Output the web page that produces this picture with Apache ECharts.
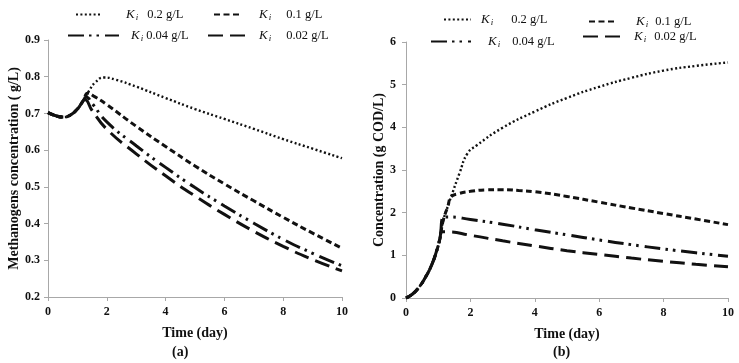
<!DOCTYPE html>
<html lang="en">
<head>
    <meta charset="UTF-8">
    <title>Methanogens and concentration vs time</title>
    <script src="https://cdn.jsdelivr.net/npm/echarts@6/dist/echarts.min.js"></script>
</head>
<body style="margin:0;background:#fff;">
    <div id="chart" style="width: 739px; height: 363px;"></div>
    <script>
    // legend values (same four Ki values on both panels)
    var kiLabels = ['0.2 g/L', '0.1 g/L', '0.04 g/L', '0.02 g/L'];
    var xTicks = [0, 2, 4, 6, 8, 10];

    // (a) methanogens concentration, g/L  -- [time, value]
    var methStart = [[0, 0.702], [0.25, 0.694], [0.5, 0.690], [0.75, 0.695], [1.0, 0.712], [1.2, 0.735]];
    var meth02 = [[1.4, 0.762], [1.6, 0.784], [1.9, 0.798], [2.3, 0.792], [3, 0.773], [4, 0.742], [5, 0.712], [6, 0.685], [7, 0.658], [8, 0.630], [9, 0.604], [10, 0.578]];
    var meth01 = [[1.35, 0.755], [1.6, 0.745], [2, 0.724], [3, 0.665], [4, 0.610], [5, 0.557], [6, 0.508], [7, 0.462], [8, 0.417], [9, 0.374], [10, 0.333]];
    var meth004 = [[1.3, 0.745], [1.5, 0.727], [2, 0.677], [3, 0.612], [4, 0.553], [5, 0.498], [6, 0.448], [7, 0.401], [8, 0.357], [9, 0.319], [10, 0.285]];
    var meth002 = [[1.25, 0.738], [1.5, 0.708], [2, 0.657], [3, 0.590], [4, 0.530], [5, 0.475], [6, 0.425], [7, 0.379], [8, 0.338], [9, 0.302], [10, 0.271]];

    // (b) concentration, g COD/L
    var concStart = [[0, 0], [0.2, 0.09], [0.4, 0.25], [0.6, 0.48], [0.8, 0.78], [0.95, 1.10], [1.05, 1.38]];
    var concRise = [[1.15, 1.80], [1.3, 2.15], [1.4, 2.37]];
    var conc02 = [[1.66, 2.92], [1.91, 3.39], [2.2, 3.58], [3, 3.99], [4, 4.37], [5, 4.69], [6, 4.95], [7, 5.16], [8, 5.33], [9, 5.44], [10, 5.52]];
    var conc01 = [[1.6, 2.44], [2, 2.50], [2.5, 2.535], [3, 2.54], [3.5, 2.52], [4, 2.49], [5, 2.38], [6, 2.245], [7, 2.11], [8, 1.98], [9, 1.85], [10, 1.72]];
    var conc004 = [[1.18, 1.90], [1.35, 1.90], [2, 1.84], [3, 1.73], [4, 1.60], [5, 1.48], [6, 1.36], [7, 1.25], [8, 1.15], [9, 1.06], [10, 0.98]];
    var conc002 = [[1.12, 1.55], [1.3, 1.55], [2, 1.47], [3, 1.34], [4, 1.22], [5, 1.11], [6, 1.02], [7, 0.935], [8, 0.86], [9, 0.79], [10, 0.73]];

    var serif = '"Liberation Serif", "DejaVu Serif", serif';
    var dashes = [[2, 2.4], [6, 3.5], [16, 5, 2.5, 5, 2.5, 6], [15, 7]];
    var widths = [2.4, 3, 3, 3];

    var chart = echarts.init(document.getElementById('chart'));

    function lineSeries(name, idx, data, panel) {
        return {
            name: name,
            type: 'line',
            xAxisIndex: panel,
            yAxisIndex: panel,
            data: data,
            symbol: 'none',
            smooth: 0.5,
            z: 10 - idx,
            color: '#111',
            lineStyle: { color: '#111', width: widths[idx], type: dashes[idx] }
        };
    }

    var names = ['a0', 'a1', 'a2', 'a3', 'b0', 'b1', 'b2', 'b3'];
    var series = [
        lineSeries('a0', 0, methStart.concat(meth02), 0),
        lineSeries('a1', 1, methStart.concat(meth01), 0),
        lineSeries('a2', 2, methStart.concat(meth004), 0),
        lineSeries('a3', 3, methStart.concat(meth002), 0),
        lineSeries('b0', 0, concStart.concat(concRise, conc02), 1),
        lineSeries('b1', 1, concStart.concat(concRise, conc01), 1),
        lineSeries('b2', 2, concStart.concat(conc004), 1),
        lineSeries('b3', 3, concStart.concat(conc002), 1)
    ];

    // legend placement: icon left, row centre, icon length, text pad, gap after Ki
    var legendPos = [
        [75, 15, 25, 20, 6], [213, 15, 25, 15, 12], [67, 36, 51, 7, 0], [207, 36, 41, 5, 12],
        [443, 20, 27, 5, 15], [588, 22, 27, 15, 4], [430, 42, 40, 12, 9], [582, 37, 40, 6, 5]
    ];

    var legends = legendPos.map(function (p, i) {
        var label = kiLabels[i % 4];
        return {
            left: p[0],
            top: p[1] - 7,
            padding: 0,
            itemWidth: p[2],
            itemHeight: 14,
            selectedMode: false,
            data: [names[i]],
            itemStyle: { opacity: 0 },
            formatter: function () {
                return '{k|K}{i|i}{v|' + label + '}';
            },
            textStyle: {
                rich: {
                    k: { fontFamily: serif, fontStyle: 'italic', fontSize: 13, color: '#111', padding: [0, 0, 0, p[3]] },
                    i: { fontFamily: serif, fontStyle: 'italic', fontSize: 9, color: '#111', padding: [7, 0, 0, 1] },
                    v: { fontFamily: serif, fontSize: 12.5, color: '#111', padding: [0, 0, 0, p[4] + 3] }
                }
            }
        };
    });

    var axisGray = '#a8a8a8';
    var labelStyle = { color: '#111', fontWeight: 'bold', fontFamily: serif, fontSize: 12 };
    var nameStyle = { color: '#111', fontWeight: 'bold', fontFamily: serif, fontSize: 14 };

    function xAxis(panel) {
        return {
            gridIndex: panel, type: 'value', min: xTicks[0], max: xTicks[xTicks.length - 1], interval: 2,
            axisLine: { lineStyle: { color: axisGray } },
            axisTick: { length: 4, lineStyle: { color: axisGray } },
            splitLine: { show: false },
            axisLabel: Object.assign({ margin: 9 }, labelStyle),
            name: 'Time (day)', nameLocation: 'middle', nameGap: 29, nameTextStyle: nameStyle
        };
    }

    var option = {
        animation: false,
        backgroundColor: '#fff',
        grid: [
            { left: 48, right: 397, top: 40, bottom: 66 },
            { left: 406, right: 11, top: 42, bottom: 65 }
        ],
        legend: legends,
        xAxis: [xAxis(0), xAxis(1)],
        yAxis: [
            {
                gridIndex: 0, type: 'value', min: 0.2, max: 0.9, interval: 0.1,
                axisLine: { show: true, lineStyle: { color: axisGray } },
                axisTick: { show: true, length: 4, lineStyle: { color: axisGray } },
                splitLine: { show: false },
                axisLabel: Object.assign({ margin: 8, formatter: function (v) { return v.toFixed(1); } }, labelStyle),
                name: 'Methanogens concentration ( g/L)', nameLocation: 'middle', nameGap: 27, nameTextStyle: nameStyle
            },
            {
                gridIndex: 1, type: 'value', min: 0, max: 6, interval: 1,
                axisLine: { show: true, lineStyle: { color: axisGray } },
                axisTick: { show: true, length: 4, lineStyle: { color: axisGray } },
                splitLine: { show: false },
                axisLabel: Object.assign({ margin: 10 }, labelStyle),
                name: 'Concentration (g COD/L)', nameLocation: 'middle', nameGap: 19, nameTextStyle: nameStyle
            }
        ],
        graphic: [
            { type: 'text', left: 172, top: 345, style: { text: '(a)', font: 'bold 14px ' + serif, fill: '#111' } },
            { type: 'text', left: 553, top: 345, style: { text: '(b)', font: 'bold 14px ' + serif, fill: '#111' } }
        ],
        series: series
    };

    chart.setOption(option);
    </script>
</body>
</html>
